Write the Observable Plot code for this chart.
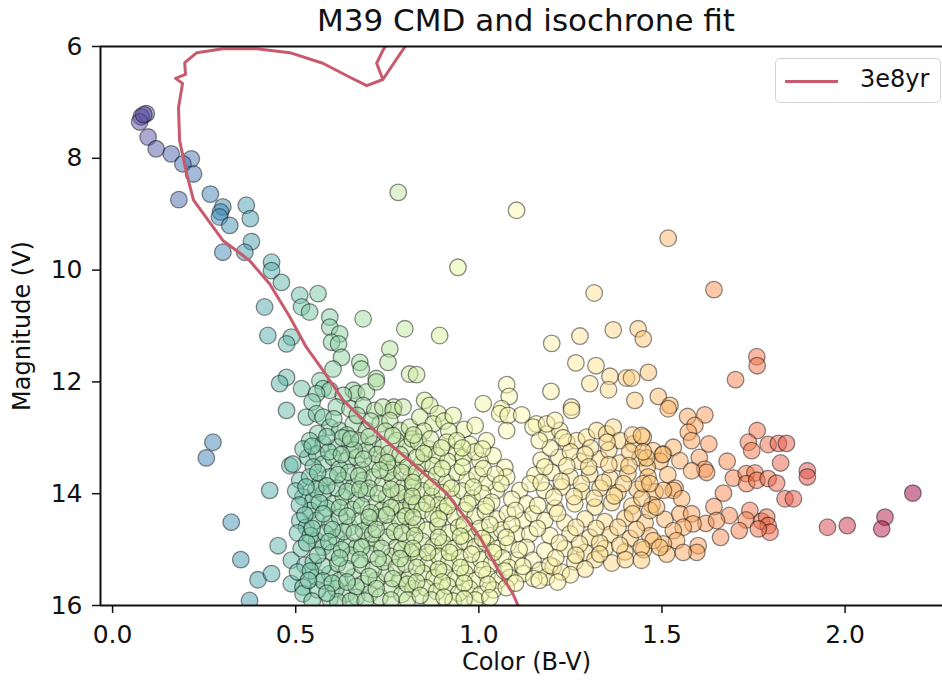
<!DOCTYPE html>
<html><head><meta charset="utf-8">
<script src="https://cdn.jsdelivr.net/npm/d3@7"></script>
<script src="https://cdn.jsdelivr.net/npm/@observablehq/plot@0.6"></script>
<style>
body{margin:0;background:#fff;font-family:"DejaVu Sans",sans-serif;}
#wrap{position:relative;width:942px;height:684px;overflow:hidden;background:#fff}
#title{height:40px;position:relative}
#title span{position:absolute;left:526px;top:2px;transform:translateX(-50%);font-size:31px;white-space:nowrap;color:#111}
#legend{position:absolute;left:775px;top:58px;width:166px;height:45px;border:1.5px solid #d4d4d4;border-radius:5px;background:rgba(255,255,255,0.85);box-sizing:border-box}
#legend .sw{position:absolute;left:9px;top:21px;width:53px;height:3px;background:#c75b6d}
#legend .lb{position:absolute;left:84px;top:6px;font-size:24px;color:#111}
</style></head>
<body>
<div id="wrap">
<div id="title"><span>M39 CMD and isochrone fit</span></div>
<div id="chart"></div>
<div id="legend"><div class="sw"></div><div class="lb">3e8yr</div></div>
</div>
<script>
// ---- axes ----
const xDomain = [-0.033, 2.266];
const yDomain = [16, 6];
const xTicks = [0.0, 0.5, 1.0, 1.5, 2.0];
const yTicks = [6, 8, 10, 12, 14, 16];
const xLabel = "Color (B-V)";
const yLabel = "Magnitude (V)";
const seriesName = "3e8yr";

// ---- isochrone (3e8 yr) ----
const isoBV = [1.123,1.107,1.093,1.049,1.003,0.913,0.820,0.730,0.694,0.630,0.575,0.529,0.484,0.429,0.374,0.338,0.301,0.221,0.202,0.183,0.180,0.191,0.172,0.199,0.197,0.230,0.301,0.393,0.484,0.574,0.648,0.694,0.738,0.721,0.738,0.762,0.817,0.738];
const isoV  = [16.18,16.00,15.79,15.32,14.78,14.00,13.46,12.96,12.74,12.33,11.80,11.38,10.84,10.25,9.83,9.65,9.47,8.75,8.27,7.68,7.09,6.66,6.57,6.50,6.29,6.11,6.04,6.04,6.11,6.30,6.55,6.70,6.59,6.30,6.07,5.82,5.82,6.59];

// ---- stars: [B-V, V] ----
const upperSequence = [[0.092,7.20],[0.078,7.26],[0.074,7.35],[0.085,7.22],[0.097,7.62],[0.119,7.83],[0.160,7.92],[0.215,8.01],[0.192,8.10],[0.221,8.28],[0.181,8.74],[0.267,8.64],[0.301,8.87],[0.295,8.96],[0.292,9.05],[0.320,9.20],[0.365,8.84],[0.376,9.08],[0.379,9.49],[0.361,9.68],[0.301,9.68],[0.434,9.86],[0.434,10.01],[0.461,10.22],[0.511,10.45],[0.561,10.42],[0.415,10.66],[0.516,10.66],[0.538,10.75],[0.424,11.17],[0.488,11.20],[0.475,11.32],
[0.593,10.84],[0.593,11.02],[0.620,11.14],[0.598,11.29],[0.617,11.32],[0.684,10.87],[0.798,11.05],[0.625,11.56],[0.602,11.77],[0.675,11.65],[0.679,11.77],[0.757,11.41],[0.752,11.65],[0.720,11.94],[0.475,11.92],[0.456,12.03],[0.516,12.12],[0.566,11.98],[0.575,12.12],[0.593,12.15],[0.557,12.21],[0.657,12.15],[0.666,12.21],[0.693,12.18],[0.811,11.86]];

const blueOutliers = [[0.274,13.08],[0.256,13.36],[0.429,13.94],[0.324,14.51],[0.350,15.18],[0.397,15.54],[0.434,15.43],[0.374,15.91],[0.452,14.93],[0.484,13.50],[0.492,13.47],[0.488,15.19]];

const sparseStars = [[0.780,8.61],[1.103,8.93],[0.943,9.95],[1.517,9.43],[1.315,10.41],[1.642,10.35],[0.893,11.17],[0.830,11.87],
[1.199,11.31],[1.276,11.18],[1.367,11.07],[1.435,11.05],[1.449,11.23],[1.265,11.66],[1.320,11.71],[1.463,11.83],[1.303,12.03],[1.358,11.90],[1.403,11.93],[1.417,11.93],[1.354,12.14],[1.197,12.17],[1.076,12.05],[1.083,12.26],[1.012,12.39],[1.426,12.33],[1.490,12.26],[1.522,12.42],[0.852,12.33],[0.866,12.42],[0.768,12.45],[1.253,12.45],[1.062,12.48]];

const greenCore = [[0.630,12.24],[0.720,12.00],[0.545,12.36],[0.475,12.51],[0.529,12.63],[0.557,12.57],[0.575,12.63],[0.611,12.45],[0.648,12.48],[0.684,12.42],[0.716,12.51],[0.738,12.45],[0.766,12.51],[0.793,12.45],[0.593,12.81],[0.620,12.87],[0.657,12.75],[0.693,12.87],[0.730,12.75],[0.757,12.69],[0.784,12.87],[0.811,12.81],[0.604,12.66],[0.668,12.60],[0.705,12.70],[0.745,12.88],[0.640,12.95],[0.560,12.92],
[0.538,13.05],[0.575,13.11],[0.611,13.17],[0.648,13.11],[0.675,13.05],[0.711,13.11],[0.738,13.17],[0.775,13.05],[0.802,13.17],[0.533,13.35],[0.557,13.29],[0.575,13.47],[0.602,13.35],[0.639,13.41],[0.666,13.35],[0.693,13.23],[0.711,13.47],[0.738,13.41],[0.766,13.53],[0.793,13.41],[0.520,13.20],[0.590,13.25],[0.628,13.00],[0.660,13.22],[0.722,13.30],[0.755,13.28],[0.785,13.30],[0.818,13.02],[0.548,13.52],[0.620,13.55],[0.680,13.58],
[0.511,13.76],[0.538,13.70],[0.566,13.82],[0.593,13.70],[0.630,13.76],[0.657,13.88],[0.684,13.76],[0.711,13.70],[0.738,13.82],[0.766,13.76],[0.793,13.88],[0.520,14.06],[0.547,14.12],[0.575,14.00],[0.602,14.18],[0.630,14.06],[0.666,14.12],[0.693,14.00],[0.720,14.18],[0.748,14.06],[0.775,14.18],[0.802,14.06],[0.500,13.95],[0.555,13.92],[0.612,13.90],[0.645,13.62],[0.700,13.90],[0.752,13.62],[0.780,13.98],[0.815,13.70],[0.585,14.26],[0.540,14.30],[0.655,14.28],[0.735,14.30],[0.790,14.30],
[0.511,14.48],[0.529,14.60],[0.557,14.48],[0.593,14.54],[0.620,14.42],[0.648,14.60],[0.675,14.48],[0.702,14.54],[0.730,14.42],[0.757,14.60],[0.784,14.48],[0.557,14.84],[0.575,14.96],[0.611,14.78],[0.639,14.90],[0.666,14.96],[0.693,14.84],[0.720,14.90],[0.748,14.78],[0.775,14.96],[0.802,14.84],[0.505,14.70],[0.540,14.75],[0.580,14.70],[0.630,14.68],[0.685,14.66],[0.710,14.72],[0.770,14.68],[0.812,14.60],[0.515,14.98],[0.600,15.05],[0.650,15.10],[0.705,15.08],[0.760,15.12],[0.815,15.05],
[0.525,15.28],[0.488,15.61],[0.520,15.67],[0.557,15.49],[0.593,15.43],[0.620,15.55],[0.657,15.49],[0.684,15.61],[0.720,15.55],[0.748,15.43],[0.784,15.55],[0.811,15.49],[0.520,15.79],[0.593,15.88],[0.639,15.79],[0.666,15.85],[0.702,15.79],[0.730,15.85],[0.548,15.22],[0.575,15.30],[0.615,15.25],[0.640,15.34],[0.680,15.28],[0.712,15.36],[0.740,15.22],[0.775,15.32],[0.800,15.26],[0.560,15.72],[0.610,15.70],[0.665,15.66],[0.760,15.70],[0.790,15.80],[0.820,15.70],[0.545,15.92],[0.615,15.93],[0.760,15.90]];

const greenCoreFaint = [[0.585,12.98],[0.650,13.02],[0.700,12.98],[0.765,12.96],[0.545,13.15],[0.625,13.30],[0.685,13.38],[0.750,13.44],[0.805,13.52],[0.560,13.62],[0.615,13.66],[0.672,13.68],[0.730,13.58],[0.790,13.62],[0.528,13.88],[0.585,13.86],[0.640,13.96],[0.675,13.92],[0.725,14.00],[0.760,13.92],[0.820,13.88],[0.510,14.20],[0.565,14.16],[0.620,14.25],[0.680,14.22],[0.705,14.34],[0.760,14.25],[0.815,14.20],[0.525,14.38],[0.575,14.36],[0.640,14.40],[0.700,14.42],[0.748,14.38],[0.800,14.40],[0.545,14.62],[0.600,14.64],[0.660,14.70],[0.720,14.64],[0.790,14.70],[0.530,14.88],[0.590,14.86],[0.625,15.00],[0.680,14.96],[0.735,14.98],[0.790,15.00],[0.560,15.10],[0.620,15.15],[0.675,15.18],[0.725,15.16],[0.785,15.16],[0.505,15.40],[0.540,15.38],[0.575,15.56],[0.600,15.60],[0.640,15.58],[0.700,15.48],[0.765,15.52],[0.805,15.62],[0.535,15.55],[0.585,15.78],[0.650,15.92],[0.690,15.92],[0.720,15.70],[0.805,15.90]];

const yellowGreenCore = [[0.889,12.57],[0.839,12.63],[0.875,12.75],[0.905,12.70],[0.930,12.60],[0.960,12.85],[0.990,12.78],[0.918,12.88],[0.850,12.88],[1.057,12.57],[1.080,12.60],
[0.912,13.08],[0.939,13.26],[0.957,13.35],[1.021,13.05],[1.039,13.32],[1.003,13.41],[0.835,13.08],[0.862,13.20],[0.885,13.32],[0.845,13.45],[0.875,13.50],[0.915,13.42],[0.975,13.12],[0.990,13.25],[0.940,13.05],[0.830,13.35],
[1.071,13.53],[1.076,13.70],[1.048,13.94],[1.112,13.94],[0.830,13.62],[0.858,13.75],[0.885,13.66],[0.912,13.80],[0.940,13.62],[0.968,13.75],[0.995,13.66],[1.022,13.80],[0.845,13.95],[0.872,14.05],[0.900,13.98],[0.928,14.10],[0.955,13.95],[0.982,14.08],[1.010,14.00],[1.035,14.15],[0.830,14.18],[0.890,14.20],
[1.130,14.18],[1.121,14.48],[1.148,14.36],[1.103,14.72],[1.139,14.72],[1.130,14.96],[0.845,14.30],[0.875,14.38],[0.905,14.32],[0.935,14.42],[0.962,14.30],[0.990,14.40],[1.018,14.32],[1.050,14.45],[1.078,14.35],[0.830,14.55],[0.858,14.65],[0.888,14.58],[0.918,14.70],[0.945,14.60],[0.975,14.72],[1.002,14.62],[1.030,14.75],[1.062,14.65],[0.845,14.85],[0.875,14.95],[0.902,14.88],[0.932,14.98],[0.960,14.85],[0.990,14.95],[1.020,14.88],[1.050,14.98],[1.080,14.90],
[1.103,15.19],[1.148,15.19],[1.167,15.37],[1.121,15.43],[1.185,15.49],[1.203,15.31],[0.835,15.15],[0.862,15.25],[0.890,15.12],[0.918,15.22],[0.948,15.15],[0.975,15.28],[1.005,15.18],[1.035,15.25],[1.065,15.15],[1.082,15.32],[0.848,15.42],[0.878,15.50],[0.905,15.40],[0.935,15.52],[0.962,15.42],[0.992,15.55],[1.022,15.45],[1.052,15.55],[1.085,15.50],[0.855,15.68],[0.885,15.75],[0.915,15.65],[0.945,15.78],[0.975,15.70],[1.005,15.80],[1.040,15.72],[1.075,15.68],[0.870,15.90],[0.930,15.92],[0.990,15.90]];

const yellowGreenFaint = [[0.822,12.95],[0.868,13.02],[0.898,13.18],[0.955,13.18],[1.010,13.20],[0.850,13.28],[0.900,13.55],[0.955,13.52],[1.012,13.55],[1.045,13.65],[0.820,13.80],[0.872,13.88],[0.925,13.90],[0.985,13.88],[1.060,13.82],[0.818,14.05],[0.858,14.18],[0.915,14.22],[0.970,14.18],[1.020,14.22],[1.090,14.10],[1.100,14.30],[0.820,14.42],[0.890,14.45],[0.960,14.55],[1.030,14.55],[1.090,14.55],[0.825,14.75],[0.890,14.78],[0.950,14.76],[1.010,14.80],[1.075,14.78],[0.820,14.98],[0.860,15.05],[0.920,15.05],[0.980,15.08],[1.040,15.05],[1.110,15.00],[0.830,15.32],[0.890,15.35],[0.950,15.32],[1.010,15.36],[1.070,15.38],[1.120,15.30],[0.830,15.58],[0.900,15.58],[0.960,15.60],[1.025,15.62],[1.100,15.60],[1.150,15.52],[0.840,15.82],[0.905,15.85],[0.960,15.88],[1.030,15.86]];

const yellowCore = [[1.157,12.75],[1.185,12.93],[1.221,12.87],[1.240,13.08],[1.267,13.05],[1.294,12.99],[1.322,12.87],[1.349,12.93],[1.367,12.81],[1.385,13.05],[1.422,13.11],[1.449,12.99],[1.117,12.59],[1.148,12.81],[1.185,12.75],[1.208,12.69],[1.253,12.51],[1.076,12.87],
[1.476,13.23],[1.504,13.29],[1.531,13.17],[1.170,13.40],[1.218,13.35],[1.275,13.42],[1.330,13.38],[1.385,13.45],[1.440,13.36],[1.495,13.42],[1.195,13.18],[1.250,13.25],[1.305,13.18],[1.355,13.22],[1.412,13.25],[1.460,13.52],
[1.153,13.67],[1.199,13.62],[1.249,13.70],[1.303,13.65],[1.358,13.72],[1.407,13.64],[1.462,13.70],[1.516,13.66],[1.180,13.94],[1.227,13.88],[1.281,13.96],[1.331,13.90],[1.380,13.98],[1.432,13.92],[1.481,13.97],[1.536,13.90],[1.140,13.82],
[1.161,14.21],[1.208,14.26],[1.262,14.18],[1.317,14.24],[1.363,14.16],[1.418,14.22],[1.473,14.20],[1.180,14.48],[1.235,14.52],[1.290,14.45],[1.344,14.50],[1.399,14.44],[1.454,14.52],[1.508,14.46],[1.215,14.35],
[1.194,14.75],[1.249,14.72],[1.303,14.78],[1.358,14.73],[1.413,14.80],[1.467,14.75],[1.180,15.02],[1.235,14.98],[1.290,15.05],[1.344,14.98],[1.399,15.04],[1.450,15.00],[1.194,15.28],[1.262,15.22],[1.317,15.18],[1.363,15.24],[1.225,15.40],[1.290,15.35]];

const yellowFaint = [[1.165,13.05],[1.230,13.00],[1.290,13.30],[1.350,13.08],[1.420,12.95],[1.180,13.52],[1.240,13.50],[1.300,13.52],[1.355,13.48],[1.410,13.50],[1.170,13.80],[1.225,13.78],[1.280,13.82],[1.340,13.80],[1.395,13.82],[1.445,14.08],[1.205,14.06],[1.260,14.05],[1.315,14.08],[1.370,14.04],[1.420,14.36],[1.160,14.62],[1.265,14.60],[1.320,14.62],[1.380,14.60],[1.430,14.64],[1.220,14.88],[1.275,14.90],[1.330,14.88],[1.385,14.92],[1.210,15.15],[1.265,15.10],[1.330,15.08],[1.400,15.18],[1.250,15.45],[1.165,15.55],[1.215,15.58]];

const redTail = [[1.759,11.55],[1.760,11.71],[1.701,11.96],[1.517,12.48],[1.570,12.62],[1.617,12.59],[1.590,12.78],[1.572,12.90],[1.581,13.05],[1.628,13.11],[1.444,12.96],[1.502,13.30],[1.549,13.41],[1.602,13.35],[1.617,13.56],[1.622,13.62],[1.678,13.42],[1.760,12.87],[1.736,13.08],[1.745,13.23],[1.790,13.12],[1.818,13.10],[1.840,13.10],[1.824,13.45],[1.897,13.59],[1.897,13.70],[1.695,13.72],[1.730,13.64],[1.754,13.63],[1.731,13.82],[1.759,13.76],[1.790,13.73],[1.813,13.81],[1.836,14.09],[1.859,14.09],[1.668,13.99],[1.642,14.23],[1.684,14.39],[1.740,14.30],[1.730,14.47],[1.772,14.49],[1.786,14.42],[1.790,14.57],[1.795,14.69],[1.763,14.63],[1.711,14.66],[1.660,14.78],[1.620,14.53],[1.649,14.48],[1.952,14.60],[2.006,14.57],[2.109,14.42],[2.100,14.63],[2.185,13.99],
[1.581,13.59],[1.531,13.94],[1.504,13.94],[1.554,14.09],[1.549,14.36],[1.581,14.36],[1.585,14.54],[1.558,14.60],[1.531,14.66],[1.540,14.84],[1.504,14.90],[1.476,14.84],[1.599,14.93],[1.595,15.05],[1.558,15.05],[1.513,15.08],[1.494,14.96],[1.444,14.96],[1.444,15.19],[1.467,14.30],[1.485,14.24],[1.449,13.82],[1.467,13.82],[1.458,13.36],[1.449,13.25]];

const stars = [...upperSequence, ...blueOutliers, ...sparseStars, ...greenCore, ...greenCoreFaint, ...yellowGreenCore, ...yellowGreenFaint, ...yellowCore, ...yellowFaint, ...redTail]
  .map(([bv, v]) => ({bv, v}));
const iso = isoBV.map((bv, i) => ({bv, v: isoV[i]}));

const fontFamily = "DejaVu Sans, sans-serif";
const chart = Plot.plot({
  width: 942,
  height: 644,
  marginTop: 6,
  marginLeft: 100,
  marginRight: 0,
  marginBottom: 79,
  style: {fontFamily, fontSize: "24px", color: "#111", background: "white", overflow: "visible"},
  x: {domain: xDomain},
  y: {domain: yDomain},
  color: {type: "linear", scheme: "spectral", reverse: true, domain: d3.extent(stars, d => d.bv)},
  marks: [
    Plot.dot(stars, {x: "bv", y: "v", r: 8.3, fill: "bv", fillOpacity: 0.5, stroke: "black", strokeOpacity: 0.45, strokeWidth: 1.3, clip: true}),
    Plot.line(iso, {x: "bv", y: "v", stroke: "#c75b6d", strokeWidth: 3, clip: true, curve: "linear"}),
    Plot.ruleY([yDomain[0]], {stroke: "#111", strokeWidth: 2}),
    Plot.ruleY([yDomain[1]], {stroke: "#111", strokeWidth: 2}),
    Plot.ruleX([xDomain[0]], {stroke: "#111", strokeWidth: 2}),
    Plot.axisX(xTicks, {anchor: "bottom", tickFormat: d3.format(".1f"), tickSize: 8, tickPadding: 12, strokeWidth: 1.5, label: null, fontSize: 25}),
    Plot.axisY(yTicks, {anchor: "left", tickFormat: d3.format("d"), tickSize: 8, tickPadding: 10, strokeWidth: 1.5, label: null, fontSize: 25}),
    Plot.text([xLabel], {frameAnchor: "bottom", textAnchor: "middle", dx: 5, dy: 64, fontSize: 24, fill: "#111"}),
    Plot.text([yLabel], {frameAnchor: "left", textAnchor: "middle", dx: -78, rotate: -90, fontSize: 24, fill: "#111"})
  ]
});
document.getElementById("chart").appendChild(chart);
document.querySelector("#legend .lb").textContent = seriesName;
</script>
</body></html>
